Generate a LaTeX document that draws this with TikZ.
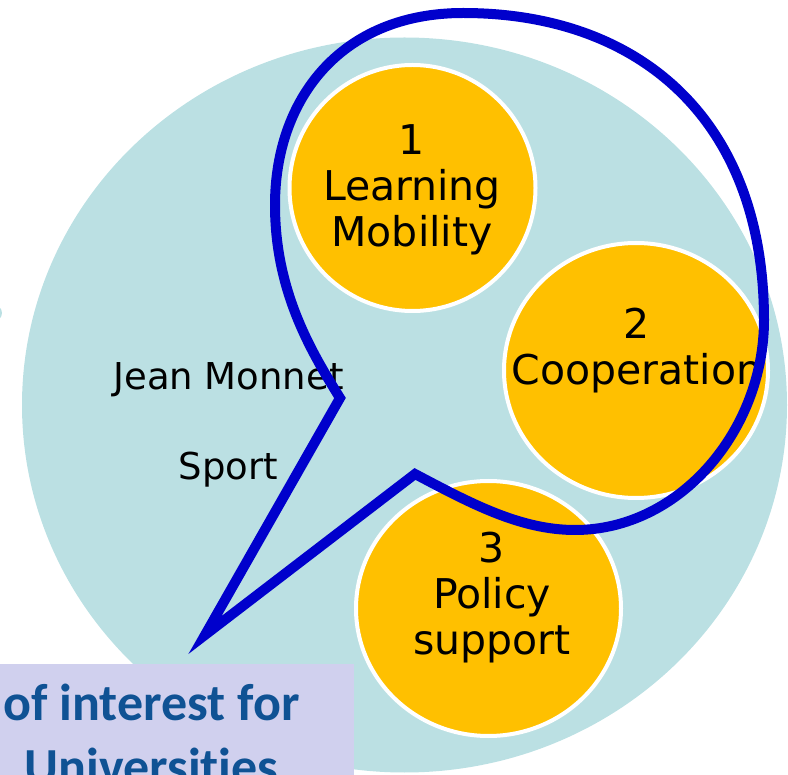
\documentclass[tikz,border=0pt]{standalone}
\usepackage{fontspec}
\newfontfamily\bubblefont{DejaVu Sans}
\newfontfamily\boxfont[Ligatures=NoCommon]{Carlito}
\usetikzlibrary{shapes.geometric}

\definecolor{ringteal}{RGB}{187,224,227}
\definecolor{actiongold}{RGB}{255,192,0}
\definecolor{calloutblue}{RGB}{0,0,204}
\definecolor{boxlilac}{RGB}{208,208,238}
\definecolor{boxblue}{RGB}{15,82,148}

\tikzset{
    bubble/.style={ellipse, fill=actiongold, draw=white, line width=4pt, inner sep=0pt},
    bubbletext/.style={align=center, inner sep=0pt, font=\bubblefont\fontsize{41}{46}\selectfont},
    sidetext/.style={anchor=base, inner sep=0pt, font=\bubblefont\fontsize{37}{40}\selectfont},
    infobox/.style={fill=boxlilac, text=boxblue, align=center, inner sep=0pt, font=\boxfont\bfseries\fontsize{52}{64}\selectfont}
}

\begin{document}
\begin{tikzpicture}[x=1pt, y=-1pt]
        \useasboundingbox (0,0) rectangle (788,775);
        \clip (0,0) rectangle (788,775);
        \fill[ringteal] (404.5,405) ellipse [x radius=382.5, y radius=367.5]; %grosser kreis
        \fill[ringteal] (-6,313) circle [radius=8]; %rest links

        \node[bubble, minimum width=246, minimum height=246] (mobility) at (412.5,188) {}; %kreis 1
        \node[bubble, minimum width=264, minimum height=255] (cooperation) at (636,370.5) {}; %kreis 2
        \node[bubble, minimum width=265, minimum height=255] (policy) at (488.5,608.5) {}; %kreis 3
        \node[bubbletext] (mobilitytext) at (412,189.4) {1\\Learning\\Mobility};
        \node[bubbletext] (cooperationtext) at (637,350.4) {2\\Cooperation};
        \node[bubbletext] (policytext) at (492,597.4) {3\\Policy\\support};

        \node[sidetext] (monnet) at (228.5,390) {Jean Monnet};
        \node[sidetext] (sport) at (228.5,480) {Sport};

        % --------------------------------------------------

        \coordinate (tip) at (205,635);
        \coordinate (notchlow) at (415,474);
        \coordinate (notchhigh) at (340,398);
        \draw[calloutblue, line width=10pt, line join=miter, miter limit=20] (tip) -- (notchlow)
            .. controls (470,503) and (520,530) .. (575,530)
            .. controls (680,530) and (764,430) .. (764,320)
            .. controls (764,120) and (640,13) .. (463,13)
            .. controls (340,13) and (275,100) .. (275,205)
            .. controls (275,290) and (310,350) .. (notchhigh) -- cycle; %sprechblase

        % --------------------------------------------------

        \node[infobox, minimum width=404, minimum height=141] (interest) at (151.5,734.5) {of interest for\\Universities};
    \end{tikzpicture}
\end{document}
